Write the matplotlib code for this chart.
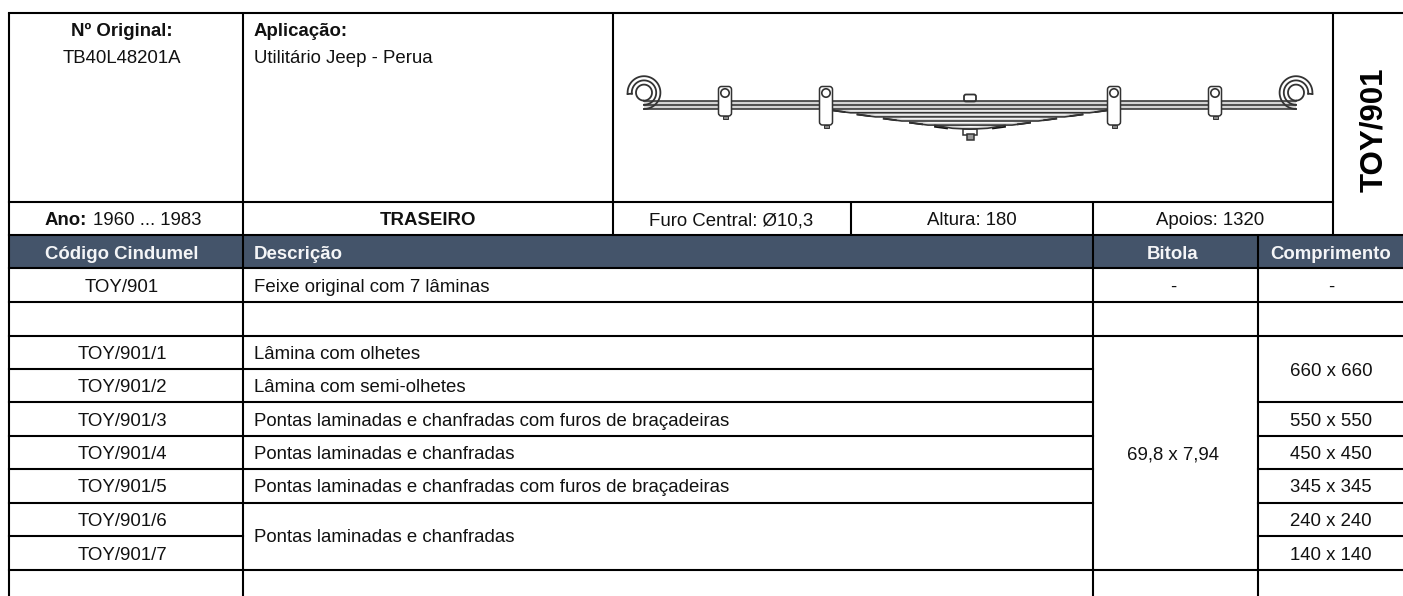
import numpy as np
import matplotlib
matplotlib.use('Agg')
import matplotlib.pyplot as plt
from matplotlib.patches import FancyBboxPatch, Circle, Rectangle

plt.rcParams['font.family'] = ['Liberation Sans', 'DejaVu Sans']

# table content
original = 'TB40L48201A'
aplicacao = 'Utilitário Jeep - Perua'
ano = '1960 ... 1983'
posicao = 'TRASEIRO'
furo = 'Furo Central: Ø10,3'
altura = 'Altura: 180'
apoios = 'Apoios: 1320'
codigo = 'TOY/901'
headers = ['Código Cindumel', 'Descrição', 'Bitola', 'Comprimento']
codes = ['TOY/901/1', 'TOY/901/2', 'TOY/901/3', 'TOY/901/4', 'TOY/901/5', 'TOY/901/6', 'TOY/901/7']
descr = ['Lâmina com olhetes', 'Lâmina com semi-olhetes',
         'Pontas laminadas e chanfradas com furos de braçadeiras',
         'Pontas laminadas e chanfradas',
         'Pontas laminadas e chanfradas com furos de braçadeiras']
descr_merged = 'Pontas laminadas e chanfradas'
bitola = '69,8 x 7,94'
compr_labels = ['660 x 660', '550 x 550', '450 x 450', '345 x 345', '240 x 240', '140 x 140']
leaf_mm = [660, 660, 550, 450, 345, 240, 140]

# grid layout, pixels
W, H = 1403, 596
xL, x1, x2, x3, x4, x5, x6 = 8.5, 243, 613, 851, 1093, 1258, 1333
yT, y1, y2, y3, y4, y5 = 13, 202, 235, 268, 302, 336
yrows = [336, 369, 402, 436, 469, 503, 536, 570]
HEADER = '#44546a'
INK = '#111111'
FS = 13.4

fig = plt.figure(figsize=(W/100, H/100), dpi=100)
ax = fig.add_axes([0, 0, 1, 1])
ax.set_xlim(0, W)
ax.set_ylim(H, 0)
ax.axis('off')


def hl(y, a, b):
    ax.plot([a, b], [y, y], color='k', lw=1.5, solid_capstyle='projecting', zorder=5)


def vl(x, a, b):
    ax.plot([x, x], [a, b], color='k', lw=1.5, solid_capstyle='butt', zorder=5)


def txt(x, y, s, ha='center', bold=False, color=INK, fs=FS, **kw):
    ax.text(x, y, s, ha=ha, va='baseline', fontweight='bold' if bold else 'normal',
            color=color, fontsize=fs, zorder=6, **kw)


# header band
ax.add_patch(Rectangle((xL, y2), W-xL, y3-y2, fc=HEADER, ec='none', zorder=1))

# horizontal rules
hl(yT, xL, W)
hl(y1, xL, x6)
hl(y2, xL, W)
hl(y3, xL, W)
hl(y4, xL, W)
hl(y5, xL, W)
for y in yrows[1:6]:
    hl(y, xL, x4)
hl(yrows[6], xL, x1)
for y in yrows[2:7]:
    hl(y, x5, W)
hl(yrows[7], xL, W)

# vertical rules
vl(xL, yT, H)
vl(x1, yT, H)
vl(x2, yT, y2)
vl(x3, y1, y2)
vl(x4, y1, H)
vl(x5, y2, H)
vl(x6, yT, y2)

# top block
txt(122, 36, 'Nº Original:', bold=True)
txt(122, 63, original)
txt(254, 36, 'Aplicação:', ha='left', bold=True)
txt(254, 63, aplicacao, ha='left')
txt(45, 225, 'Ano:', ha='left', bold=True)
txt(93, 225, ano, ha='left')
txt(428, 225, posicao, bold=True)
txt(731, 225, furo)
txt(972, 225, altura)
txt(1210, 225, apoios)
txt(1382, 130, codigo, bold=True, fs=22.5, color='k', rotation=90, rotation_mode='anchor')

# header row
hc = '#f4f5f7'
txt(122, 259, headers[0], bold=True, color=hc)
txt(254, 259, headers[1], ha='left', bold=True, color=hc)
txt(1173, 259, headers[2], bold=True, color=hc)
txt(1331, 259, headers[3], bold=True, color=hc)

# body
txt(122, 292, codigo)
txt(254, 292, 'Feixe original com %d lâminas' % len(leaf_mm), ha='left')
txt(1173, 292, '-')
txt(1331, 292, '-')
for i, c in enumerate(codes):
    txt(122, (yrows[i]+yrows[i+1])/2+6.5, c)
for i, d in enumerate(descr):
    txt(254, (yrows[i]+yrows[i+1])/2+6.5, d, ha='left')
txt(254, yrows[6]+6, descr_merged, ha='left')
txt(1173, 460, bitola)
txt(1331, yrows[1]+7, compr_labels[0])
for i, c in enumerate(compr_labels[1:]):
    txt(1331, (yrows[i+2]+yrows[i+3])/2+6.5, c)

# leaf spring drawing, 0.5 px per mm
cx, ytop, pitch = 970, 100.5, 4.1
sc = 0.5
edge = '#333333'
LW = 1.15
ax.plot([cx-326, cx+326], [ytop, ytop], color=edge, lw=LW, zorder=3)
ax.fill_between([cx-326, cx+326], ytop, ytop+pitch*2, color='#d4d4d4', lw=0, zorder=2)
for k, mm in enumerate(leaf_mm):
    yb = ytop+pitch*(k+1)
    half = mm*sc/2 if k > 1 else 326
    if k < 2:
        xs = np.array([-half, half])
        ys = np.array([yb, yb])
    elif k < 6:
        xs = np.array([-half, -half+18, half-18, half])
        ys = np.array([yb-2.4, yb, yb, yb-2.4])
    else:
        xs = np.array([-half, -half/2, 0, half/2, half])
        ys = np.array([yb-3.8, yb-0.9, yb, yb-0.9, yb-3.8])
    if k >= 2:
        ax.fill_between(cx+xs, ys-pitch+1.3, ys, color='#d4d4d4', lw=0, zorder=2)
        ax.plot(cx+np.array([-half, -half+12]), [yb-2.4, yb-0.8], color='#111111', lw=1.3, zorder=3)
        ax.plot(cx+np.array([half-12, half]), [yb-0.8, yb-2.4], color='#111111', lw=1.3, zorder=3)
    ax.plot(cx+xs, ys, color=edge, lw=LW, zorder=3)

# rolled eyes
for sgn in [-1, 1]:
    ex = cx+sgn*326
    for r, a0, a1 in [(8, 90, 440), (12.2, 90, 365), (16.4, 90, 365)]:
        t = np.radians(np.linspace(a0, a1, 90))
        ax.plot(ex+sgn*(r*np.cos(t)), 92.6+r*np.sin(t), color=edge, lw=1.3, zorder=3)
    t = np.radians(365)
    ax.plot([ex+sgn*12.2*np.cos(t), ex+sgn*16.4*np.cos(t)],
            [92.6+12.2*np.sin(t), 92.6+16.4*np.sin(t)], color=edge, lw=1.3, zorder=3)

# clamps
for off, bot in [(245, 116), (144, 125)]:
    for sgn in [-1, 1]:
        xc = cx+sgn*off
        ax.add_patch(FancyBboxPatch((xc-6.5, 86.5), 13, bot-86.5, boxstyle='round,pad=0,rounding_size=3',
                                    fc='white', ec=edge, lw=1.1, zorder=4))
        ax.add_patch(Circle((xc, 93), 4.2, fc='white', ec=edge, lw=1.2, zorder=5))
        ax.add_patch(Rectangle((xc-2.5, bot), 5, 2.5, fc='#888888', ec=edge, lw=0.7, zorder=3))

# centre bolt
ax.add_patch(FancyBboxPatch((cx-6, 94.5), 12, 7, boxstyle='round,pad=0,rounding_size=2',
                            fc='white', ec=edge, lw=1.3, zorder=2))
ax.add_patch(Rectangle((cx-7, 129), 14, 6, fc='white', ec=edge, lw=1.1, zorder=2))
ax.add_patch(Rectangle((cx-3.5, 134), 7, 5.5, fc='#999999', ec=edge, lw=1.1, zorder=2))

fig.savefig('out.png', dpi=100)
